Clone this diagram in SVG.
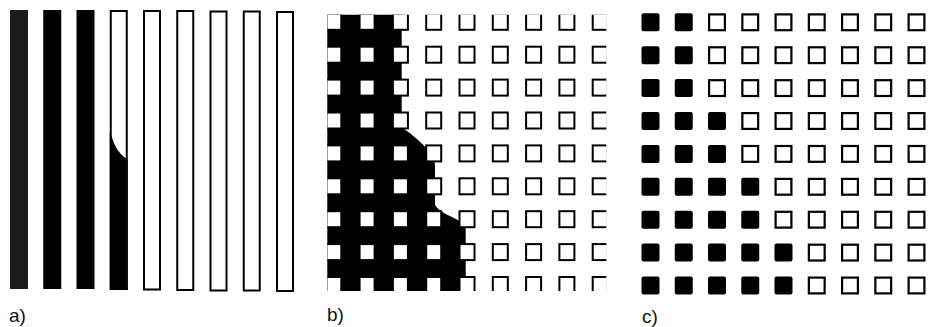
<svg xmlns="http://www.w3.org/2000/svg" xmlns:xlink="http://www.w3.org/1999/xlink" width="928" height="327" viewBox="0 0 928 327">
<style>
.bg{fill:#fff}
.barf{fill:#000}
.baro{fill:#fff;stroke:#000;stroke-width:2}
.blk{fill:#000}
.lbl{font-family:"Liberation Sans",Arial,sans-serif;font-size:19px;fill:#111}
</style>
<defs>
<rect id="bs" x="0.8" y="0.8" width="15" height="16" fill="#fff" stroke="#000" stroke-width="2"/>
<rect id="cf" width="18" height="18" rx="2" fill="#000"/>
<rect id="co" x="1.1" y="1.1" width="15.8" height="15.8" fill="none" stroke="#000" stroke-width="2.2"/>
<clipPath id="clipb"><rect x="327.3" y="14.8" width="279" height="276.2"/></clipPath>
</defs>
<rect class="bg" width="928" height="327"/>

<g id="panel-a">
<rect x="10" y="10" width="18" height="279" style="fill:#1c1c1c"/>
<rect class="barf" x="43.25" y="10" width="18" height="279"/>
<rect class="barf" x="76.5" y="10" width="18" height="279"/>
<rect class="baro" x="110.75" y="11" width="16" height="278"/>
<path class="blk" d="M109.75,131.5 C113,140 116,153 127.75,159.5 V290 H109.75 Z"/>
<rect class="baro" x="144" y="11" width="16" height="278.5"/>
<rect class="baro" x="177.25" y="11" width="16" height="279"/>
<rect class="baro" x="210.5" y="11.5" width="16" height="279"/>
<rect class="baro" x="243.75" y="11.5" width="16" height="279"/>
<rect class="baro" x="277" y="12" width="16" height="279"/>
<text class="lbl" x="9" y="322">a)</text>
</g>

<g id="panel-b">
<g clip-path="url(#clipb)">
<path class="blk" d="M300,0 H401.7 V126 C403,129 405,130 407,131 C415,137 425,145 432,156 C434.5,160 435,163 435,166 V205 C438,210 445,214 452,217 C459,220 464,224 465.7,229 V300 H300 Z"/>
<g id="b-row0" transform="translate(0,13)">
<use href="#bs" x="325.5"/><use href="#bs" x="358.8"/><use href="#bs" x="392.1"/><use href="#bs" x="425.4"/><use href="#bs" x="458.7"/><use href="#bs" x="492"/><use href="#bs" x="525.3"/><use href="#bs" x="558.6"/><use href="#bs" x="591.9"/>
</g>
<g id="b-row1" transform="translate(0,45.9)">
<use href="#bs" x="325.5"/><use href="#bs" x="358.8"/><use href="#bs" x="392.1"/><use href="#bs" x="425.4"/><use href="#bs" x="458.7"/><use href="#bs" x="492"/><use href="#bs" x="525.3"/><use href="#bs" x="558.6"/><use href="#bs" x="591.9"/>
</g>
<g id="b-row2" transform="translate(0,78.8)">
<use href="#bs" x="325.5"/><use href="#bs" x="358.8"/><use href="#bs" x="392.1"/><use href="#bs" x="425.4"/><use href="#bs" x="458.7"/><use href="#bs" x="492"/><use href="#bs" x="525.3"/><use href="#bs" x="558.6"/><use href="#bs" x="591.9"/>
</g>
<g id="b-row3" transform="translate(0,111.7)">
<use href="#bs" x="325.5"/><use href="#bs" x="358.8"/><use href="#bs" x="392.1"/><use href="#bs" x="425.4"/><use href="#bs" x="458.7"/><use href="#bs" x="492"/><use href="#bs" x="525.3"/><use href="#bs" x="558.6"/><use href="#bs" x="591.9"/>
</g>
<g id="b-row4" transform="translate(0,144.6)">
<use href="#bs" x="325.5"/><use href="#bs" x="358.8"/><use href="#bs" x="392.1"/><use href="#bs" x="425.4"/><use href="#bs" x="458.7"/><use href="#bs" x="492"/><use href="#bs" x="525.3"/><use href="#bs" x="558.6"/><use href="#bs" x="591.9"/>
</g>
<g id="b-row5" transform="translate(0,177.5)">
<use href="#bs" x="325.5"/><use href="#bs" x="358.8"/><use href="#bs" x="392.1"/><use href="#bs" x="425.4"/><use href="#bs" x="458.7"/><use href="#bs" x="492"/><use href="#bs" x="525.3"/><use href="#bs" x="558.6"/><use href="#bs" x="591.9"/>
</g>
<g id="b-row6" transform="translate(0,210.4)">
<use href="#bs" x="325.5"/><use href="#bs" x="358.8"/><use href="#bs" x="392.1"/><use href="#bs" x="425.4"/><use href="#bs" x="458.7"/><use href="#bs" x="492"/><use href="#bs" x="525.3"/><use href="#bs" x="558.6"/><use href="#bs" x="591.9"/>
</g>
<g id="b-row7" transform="translate(0,243.3)">
<use href="#bs" x="325.5"/><use href="#bs" x="358.8"/><use href="#bs" x="392.1"/><use href="#bs" x="425.4"/><use href="#bs" x="458.7"/><use href="#bs" x="492"/><use href="#bs" x="525.3"/><use href="#bs" x="558.6"/><use href="#bs" x="591.9"/>
</g>
<g id="b-row8" transform="translate(0,276.2)">
<use href="#bs" x="325.5"/><use href="#bs" x="358.8"/><use href="#bs" x="392.1"/><use href="#bs" x="425.4"/><use href="#bs" x="458.7"/><use href="#bs" x="492"/><use href="#bs" x="525.3"/><use href="#bs" x="558.6"/><use href="#bs" x="591.9"/>
</g>
</g>
<text class="lbl" x="327" y="321">b)</text>
</g>

<g id="panel-c">
<g id="c-row0" transform="translate(0,13.3)">
<use href="#cf" x="641.5"/><use href="#cf" x="674.75"/><use href="#co" x="708"/><use href="#co" x="741.25"/><use href="#co" x="774.5"/><use href="#co" x="807.75"/><use href="#co" x="841"/><use href="#co" x="874.25"/><use href="#co" x="907.5"/>
</g>
<g id="c-row1" transform="translate(0,46.2)">
<use href="#cf" x="641.5"/><use href="#cf" x="674.75"/><use href="#co" x="708"/><use href="#co" x="741.25"/><use href="#co" x="774.5"/><use href="#co" x="807.75"/><use href="#co" x="841"/><use href="#co" x="874.25"/><use href="#co" x="907.5"/>
</g>
<g id="c-row2" transform="translate(0,79.1)">
<use href="#cf" x="641.5"/><use href="#cf" x="674.75"/><use href="#co" x="708"/><use href="#co" x="741.25"/><use href="#co" x="774.5"/><use href="#co" x="807.75"/><use href="#co" x="841"/><use href="#co" x="874.25"/><use href="#co" x="907.5"/>
</g>
<g id="c-row3" transform="translate(0,112)">
<use href="#cf" x="641.5"/><use href="#cf" x="674.75"/><use href="#cf" x="708"/><use href="#co" x="741.25"/><use href="#co" x="774.5"/><use href="#co" x="807.75"/><use href="#co" x="841"/><use href="#co" x="874.25"/><use href="#co" x="907.5"/>
</g>
<g id="c-row4" transform="translate(0,144.9)">
<use href="#cf" x="641.5"/><use href="#cf" x="674.75"/><use href="#cf" x="708"/><use href="#co" x="741.25"/><use href="#co" x="774.5"/><use href="#co" x="807.75"/><use href="#co" x="841"/><use href="#co" x="874.25"/><use href="#co" x="907.5"/>
</g>
<g id="c-row5" transform="translate(0,177.8)">
<use href="#cf" x="641.5"/><use href="#cf" x="674.75"/><use href="#cf" x="708"/><use href="#cf" x="741.25"/><use href="#co" x="774.5"/><use href="#co" x="807.75"/><use href="#co" x="841"/><use href="#co" x="874.25"/><use href="#co" x="907.5"/>
</g>
<g id="c-row6" transform="translate(0,210.7)">
<use href="#cf" x="641.5"/><use href="#cf" x="674.75"/><use href="#cf" x="708"/><use href="#cf" x="741.25"/><use href="#co" x="774.5"/><use href="#co" x="807.75"/><use href="#co" x="841"/><use href="#co" x="874.25"/><use href="#co" x="907.5"/>
</g>
<g id="c-row7" transform="translate(0,243.6)">
<use href="#cf" x="641.5"/><use href="#cf" x="674.75"/><use href="#cf" x="708"/><use href="#cf" x="741.25"/><use href="#cf" x="774.5"/><use href="#co" x="807.75"/><use href="#co" x="841"/><use href="#co" x="874.25"/><use href="#co" x="907.5"/>
</g>
<g id="c-row8" transform="translate(0,276.5)">
<use href="#cf" x="641.5"/><use href="#cf" x="674.75"/><use href="#cf" x="708"/><use href="#cf" x="741.25"/><use href="#cf" x="774.5"/><use href="#co" x="807.75"/><use href="#co" x="841"/><use href="#co" x="874.25"/><use href="#co" x="907.5"/>
</g>
<text class="lbl" x="642" y="323">c)</text>
</g>
</svg>
